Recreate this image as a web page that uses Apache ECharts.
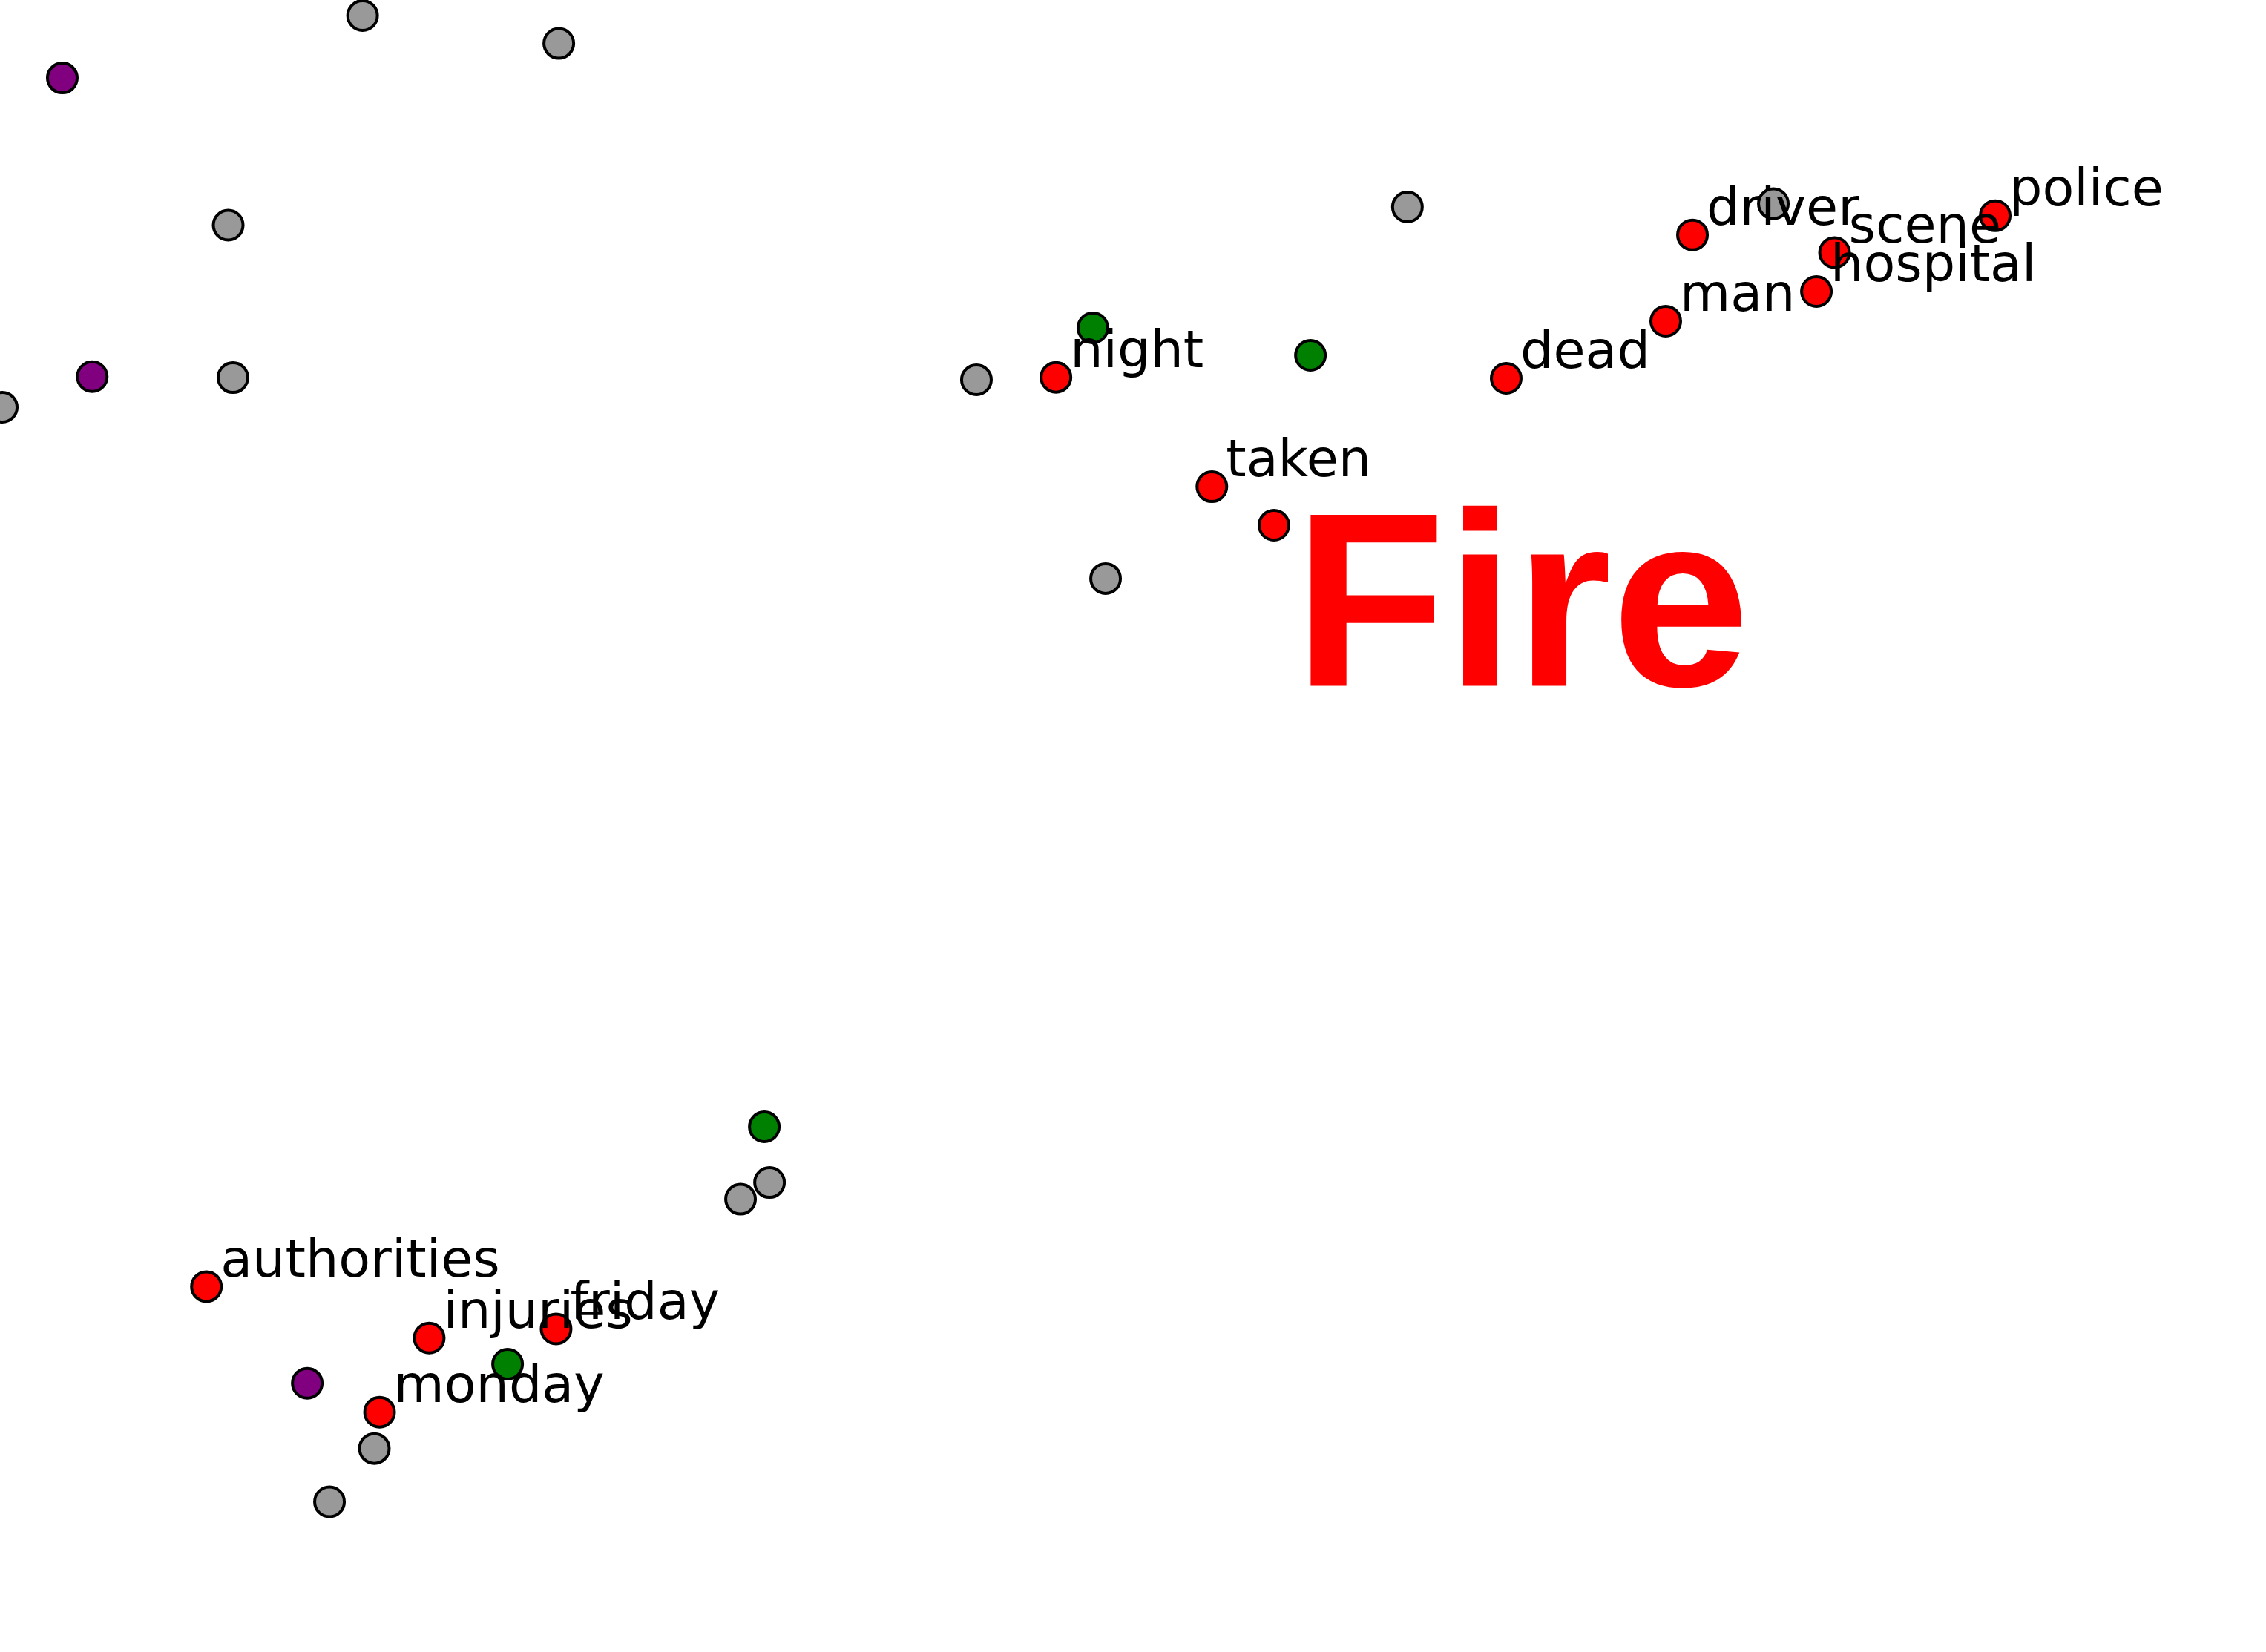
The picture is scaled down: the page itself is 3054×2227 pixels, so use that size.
<!DOCTYPE html>
<html>
<head>
<meta charset="utf-8">
<script src="https://cdn.jsdelivr.net/npm/echarts@6/dist/echarts.min.js"></script>
<style>
html,body{margin:0;padding:0;background:#fff;}
#chart{width:3054px;height:2227px;}
</style>
</head>
<body>
<div id="chart"></div>
<script>
// Data (axis units 0..100 on both axes, axes hidden)
const grayX = [16.0, 24.66, 10.07, 10.28, 0.1, 43.09, 62.11, 48.79, 78.26, 33.96, 32.68, 16.52, 14.54];
const grayY = [99.06, 97.37, 86.37, 77.14, 75.35, 77.01, 87.47, 64.98, 87.67, 28.42, 27.41, 12.32, 9.09];

const purpleX = [2.75, 4.07, 13.56];
const purpleY = [95.28, 77.2, 16.27];

const greenX = [48.23, 57.83, 33.73, 22.40];
const greenY = [80.15, 78.49, 31.79, 17.42];

const redWords = ['night', 'taken', '', 'dead', 'man', 'driver', 'scene', 'hospital', 'police', 'authorities', 'injuries', 'friday', 'monday'];
const redX = [46.60, 53.48, 56.22, 66.47, 73.51, 74.69, 80.96, 80.16, 88.05, 9.11, 18.94, 24.54, 16.75];
const redY = [77.16, 70.54, 68.21, 77.10, 80.56, 85.78, 84.71, 82.35, 86.94, 22.12, 19.01, 19.56, 14.52];

const topicTitle = 'Fire';

const zip = (xs, ys) => xs.map((x, i) => [x, ys[i]]);

const chart = echarts.init(document.getElementById('chart'), null, {renderer: 'canvas'});

const markerStyle = (c) => ({color: c, borderColor: '#000', borderWidth: 4, opacity: 1});

chart.setOption({
  backgroundColor: '#ffffff',
  animation: false,
  grid: {left: 0, right: 0, top: 0, bottom: 0, containLabel: false},
  xAxis: {type: 'value', min: 0, max: 100, show: false},
  yAxis: {type: 'value', min: 0, max: 100, show: false},
  series: [
    {type: 'scatter', name: 'gray', symbol: 'circle', symbolSize: 40, clip: false,
     itemStyle: markerStyle('#999999'), data: zip(grayX, grayY)},
    {type: 'scatter', name: 'purple', symbol: 'circle', symbolSize: 40, clip: false,
     itemStyle: markerStyle('#800080'), data: zip(purpleX, purpleY)},
    {type: 'scatter', name: 'green', symbol: 'circle', symbolSize: 40, clip: false,
     itemStyle: markerStyle('#008000'), data: zip(greenX, greenY)},
    {type: 'scatter', name: 'red', symbol: 'circle', symbolSize: 40, clip: false,
     itemStyle: markerStyle('#ff0000'),
     label: {
       show: true, position: [41, -10],
       formatter: (p) => redWords[p.dataIndex],
       color: '#000', fontFamily: 'DejaVu Sans', fontSize: 70,
       align: 'left', verticalAlign: 'middle'
     },
     data: zip(redX, redY)}
  ],
  graphic: [{
    type: 'text', x: 1744, y: 832, z: 100,
    style: {text: topicTitle, fill: '#ff0000', font: 'bold 335px "Liberation Sans"',
            align: 'left', verticalAlign: 'middle'}
  }]
});
</script>
</body>
</html>
